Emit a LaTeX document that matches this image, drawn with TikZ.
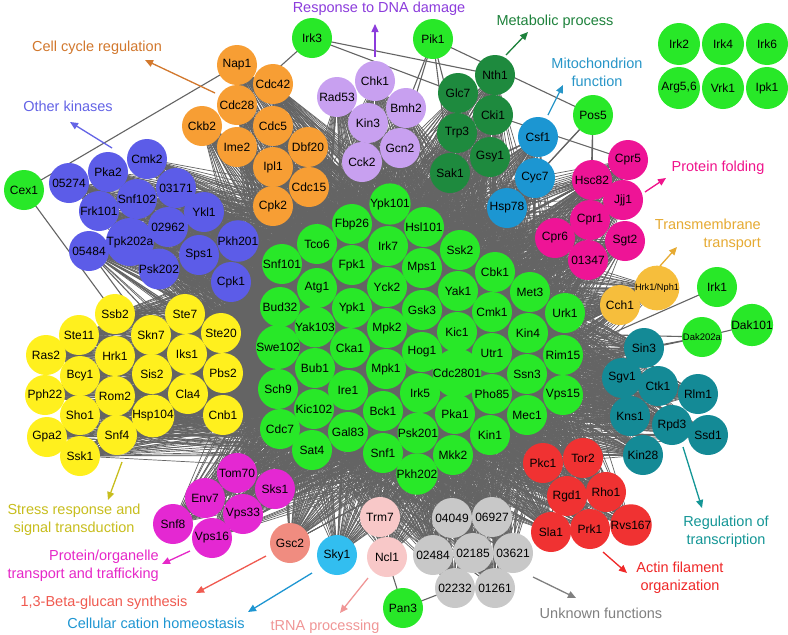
\documentclass[tikz,border=0pt]{standalone}
\usepackage{fontspec}
\setmainfont{Liberation Sans}
\usetikzlibrary{arrows.meta}
\pgfdeclarelayer{back}
\pgfdeclarelayer{bg}
\pgfsetlayers{back,bg,main}
\definecolor{cG}{RGB}{40,232,40}
\definecolor{cDG}{RGB}{30,138,62}
\definecolor{cOr}{RGB}{247,158,52}
\definecolor{cBl}{RGB}{92,92,232}
\definecolor{cPu}{RGB}{200,160,240}
\definecolor{cMi}{RGB}{28,150,210}
\definecolor{cPk}{RGB}{238,20,150}
\definecolor{cYe}{RGB}{255,240,30}
\definecolor{cTm}{RGB}{246,190,60}
\definecolor{cTe}{RGB}{20,138,150}
\definecolor{cRe}{RGB}{240,50,50}
\definecolor{cGy}{RGB}{200,200,200}
\definecolor{cMa}{RGB}{228,40,210}
\definecolor{cLp}{RGB}{248,200,200}
\definecolor{cSk}{RGB}{50,190,240}
\definecolor{cSa}{RGB}{240,140,128}
\definecolor{cEdge}{RGB}{100,100,100}
\definecolor{lOr}{RGB}{210,120,45}
\definecolor{lBl}{RGB}{100,100,230}
\definecolor{lPu}{RGB}{140,60,220}
\definecolor{lDG}{RGB}{30,130,60}
\definecolor{lMi}{RGB}{40,150,200}
\definecolor{lPk}{RGB}{240,20,140}
\definecolor{lTm}{RGB}{230,170,50}
\definecolor{lTe}{RGB}{20,150,150}
\definecolor{lRe}{RGB}{240,40,40}
\definecolor{lGy}{RGB}{128,128,128}
\definecolor{lLp}{RGB}{240,150,150}
\definecolor{lSk}{RGB}{30,150,210}
\definecolor{lSa}{RGB}{240,90,80}
\definecolor{lMa}{RGB}{230,40,200}
\definecolor{lYe}{RGB}{200,190,30}
\tikzset{
  nd/.style={circle, minimum size=40pt, inner sep=0pt, draw=none, text=black, font=\fontsize{12}{12}\selectfont},
  lab/.style={font=\fontsize{14.5}{18}\selectfont, align=center, inner sep=0pt},
  arr/.style={line width=1.3pt, -{Triangle[length=8pt,width=7pt]}},
  edge/.style={draw=cEdge, line width=0.7pt},
  ledge/.style={draw=cEdge, line width=1.1pt}
}
\def\central{Ypk101,Fbp26,Hsl101,Tco6,Irk7,Ssk2,Snf101,Fpk1,Mps1,Cbk1,Atg1,Yck2,Yak1,Met3,Bud32,Ypk1,Gsk3,Cmk1,Urk1,Yak103,Mpk2,Kic1,Kin4,Swe102,Cka1,Hog1,Utr1,Rim15,Bub1,Mpk1,Cdc2801,Ssn3,Sch9,Ire1,Irk5,Pho85,Vps15,Kic102,Bck1,Pka1,Mec1,Cdc7,Gal83,Psk201,Kin1,Sat4,Snf1,Mkk2,Pkh202}
\def\periph{05274,Pka2,Cmk2,Snf102,03171,Frk101,Ykl1,02962,05484,Tpk202a,Pkh201,Sps1,Psk202,Cpk1,Nap1,Cdc42,Cdc28,Ckb2,Cdc5,Ime2,Dbf20,Ipl1,Cdc15,Cpk2,Chk1,Rad53,Bmh2,Kin3,Gcn2,Cck2,Nth1,Glc7,Cki1,Trp3,Gsy1,Sak1,Csf1,Cyc7,Hsp78,Cpr5,Hsc82,Jjj1,Cpr1,Cpr6,Sgt2,01347,HrkNph,Cch1,Sin3,Sgv1,Ctk1,Rlm1,Kns1,Rpd3,Ssd1,Kin28,Pkc1,Tor2,Rgd1,Rho1,Sla1,Prk1,Rvs167,04049,06927,02484,02185,03621,02232,01261,Tom70,Sks1,Env7,Vps33,Snf8,Vps16,Gsc2,Sky1,Trm7,Ncl1,Ssb2,Ste7,Ste11,Skn7,Ste20,Ras2,Hrk1,Iks1,Bcy1,Sis2,Pbs2,Pph22,Rom2,Cla4,Sho1,Hsp104,Cnb1,Gpa2,Snf4,Ssk1}
\begin{document}
\begin{tikzpicture}[x=1pt,y=-1pt]
\begin{pgfonlayer}{back}
\fill[white] (0,0) rectangle (788,635);
\end{pgfonlayer}
\useasboundingbox (0,0) rectangle (788,635);
% central green
\foreach \n/\x/\y in {Ypk101/390/204,Fbp26/352/224,Hsl101/424/227,Tco6/317/244,Irk7/388/246,Ssk2/460/250,Snf101/282/264,Fpk1/352/265,Mps1/422/268,Cbk1/495/272,Atg1/317/288,Yck2/387/287,Yak1/458/291,Met3/530/292,Bud32/280/307,Ypk1/352/308,Gsk3/422/310,Cmk1/492/312,Urk1/565/313,Yak103/315/327,Mpk2/387/328,Kic1/457/332,Kin4/528/333,Swe102/278/347,Cka1/350/348,Hog1/422/352,Utr1/492/353,Rim15/563/355,Bub1/315/368,Mpk1/386/369,Cdc2801/457/373,Ssn3/527/374,Sch9/278/389,Ire1/348/390,Irk5/420/393,Pho85/492/394,Vps15/563/395,Kic102/314/409,Bck1/383/411,Pka1/455/414,Mec1/527/415,Cdc7/280/429,Gal83/348/432,Psk201/418/433,Kin1/490/435,Sat4/312/450,Snf1/383/453,Mkk2/453/455,Pkh202/417/474}
  \node[nd,fill=cG] (\n) at (\x,\y) {\n};
% other green
\foreach \n/\x/\y in {Cex1/24/190,Irk3/312/38,Pik1/433/39,Pos5/593/115,Irk1/717/287,Dak101/752/325,Pan3/403/608}
  \node[nd,fill=cG] (\n) at (\x,\y) {\n};
\node[nd,fill=cG,font=\fontsize{9.5}{10}\selectfont] (Dak202a) at (702,337) {Dak202a};
\foreach \n/\x/\y in {Irk2/679/44,Irk4/723/44,Irk6/767/44,Vrk1/723/88,Ipk1/767/88}
  \node[nd,fill=cG,minimum size=42pt] (\n) at (\x,\y) {\n};
\node[nd,fill=cG,minimum size=42pt] (Arg56) at (679,88) {Arg5,6};
% blue
\foreach \n/\x/\y in {05274/69/183,Pka2/108/172,Cmk2/147/159,Snf102/137/199,03171/176/188,Frk101/99/211,Ykl1/204/212,02962/168/227,05484/89/251,Tpk202a/130/242,Pkh201/238/241,Sps1/199/255,Psk202/159/269,Cpk1/231/282}
  \node[nd,fill=cBl] (\n) at (\x,\y) {\n};
% orange
\foreach \n/\x/\y in {Nap1/237/65,Cdc42/273/84,Cdc28/237/105,Ckb2/202/126,Cdc5/273/126,Ime2/237/147,Dbf20/308/147,Ipl1/273/167,Cdc15/309/187,Cpk2/273/206}
  \node[nd,fill=cOr] (\n) at (\x,\y) {\n};
% purple
\foreach \n/\x/\y in {Chk1/375/81,Rad53/337/97,Bmh2/406/108,Kin3/368/123,Gcn2/400/148,Cck2/362/162}
  \node[nd,fill=cPu] (\n) at (\x,\y) {\n};
% dark green
\foreach \n/\x/\y in {Nth1/495/75,Glc7/458/93,Cki1/493/115,Trp3/457/133,Gsy1/490/157,Sak1/450/173}
  \node[nd,fill=cDG] (\n) at (\x,\y) {\n};
% mito
\foreach \n/\x/\y in {Csf1/538/137,Cyc7/535/178,Hsp78/507/208}
  \node[nd,fill=cMi] (\n) at (\x,\y) {\n};
% pink
\foreach \n/\x/\y in {Cpr5/628/160,Hsc82/592/180,Jjj1/623/200,Cpr1/590/220,Cpr6/555/238,Sgt2/625/241,01347/588/260}
  \node[nd,fill=cPk] (\n) at (\x,\y) {\n};
% transmembrane
\node[nd,fill=cTm,font=\fontsize{9.2}{10}\selectfont] (HrkNph) at (657,288) {Hrk1/Nph1};
\node[nd,fill=cTm] (Cch1) at (620,305) {Cch1};
% teal
\foreach \n/\x/\y in {Sin3/644/348,Sgv1/622/378,Ctk1/658/386,Rlm1/698/394,Kns1/630/416,Rpd3/672/425,Ssd1/708/435,Kin28/643/455}
  \node[nd,fill=cTe] (\n) at (\x,\y) {\n};
% red
\foreach \n/\x/\y in {Pkc1/543/463,Tor2/583/458,Rgd1/567/496,Rho1/606/492,Sla1/551/532,Prk1/590/529,Rvs167/631/525}
  \node[nd,fill=cRe] (\n) at (\x,\y) {\n};
% gray
\foreach \n/\x/\y in {04049/452/518,06927/492/517,02484/433/555,02185/473/553,03621/513/553,02232/455/588,01261/495/588}
  \node[nd,fill=cGy] (\n) at (\x,\y) {\n};
% magenta
\foreach \n/\x/\y in {Tom70/237/473,Sks1/275/489,Env7/205/498,Vps33/243/514,Snf8/173/524,Vps16/212/538}
  \node[nd,fill=cMa] (\n) at (\x,\y) {\n};
\node[nd,fill=cLp] (Trm7) at (380,517) {Trm7};
\node[nd,fill=cLp] (Ncl1) at (387,557) {Ncl1};
\node[nd,fill=cSk] (Sky1) at (337,555) {Sky1};
\node[nd,fill=cSa] (Gsc2) at (290,543) {Gsc2};
% yellow
\foreach \n/\x/\y in {Ssb2/115/314,Ste7/185/314,Ste11/79/335,Skn7/151/335,Ste20/221/333,Ras2/46/355,Hrk1/115/356,Iks1/187/354,Bcy1/80/376,Sis2/152/374,Pbs2/223/373,Pph22/45/395,Rom2/115/396,Cla4/188/394,Sho1/80/415,Hsp104/153/416,Cnb1/223/415,Gpa2/47/437,Snf4/117/435,Ssk1/80/456}
  \node[nd,fill=cYe] (\n) at (\x,\y) {\n};
% edges
\begin{pgfonlayer}{bg}
  \foreach \a [count=\i] in \central {
    \foreach \b [count=\j] in \central {
      \ifnum\j>\i \draw[edge] (\a.center) -- (\b.center); \fi
    }
  }
  \foreach \a in \periph {
    \foreach \b in \central {
      \draw[edge] (\a.center) -- (\b.center);
    }
  }
  \foreach \a/\b in {Cex1/Nap1,Cex1/Ssb2,Irk3/Cdc28,Irk3/Glc7,Irk3/Nth1,Pik1/Pos5,Pik1/Bmh2,Pik1/Gcn2,Pik1/Trp3,Pik1/Sak1,Cki1/Cpr5,Pos5/Hsc82,Pos5/Cpr1,Pos5/Cyc7,Pos5/Hsp78,Irk1/Rim15,Dak202a/Kin4,Dak202a/Ssn3,Dak202a/Sin3,Dak202a/Dak101,Pan3/Ncl1,Pan3/02232,05484/Ste7,05484/Skn7,05484/Iks1,Tpk202a/Ste7,Tpk202a/Ste20,06927/01261}
    \draw[ledge] (\a.center) -- (\b.center);
\end{pgfonlayer}
% labels
\node[lab,text=lOr] (lCC) at (97,48) {Cell cycle regulation};
\node[lab,text=lBl] (lOK) at (68,106) {Other kinases};
\node[lab,text=lPu] (lDNA) at (379,9) {Response to DNA damage};
\node[lab,text=lDG] (lMP) at (555,22) {Metabolic process};
\node[lab,text=lMi] (lMF) at (597,72) {Mitochondrion\\function};
\node[lab,text=lPk] (lPF) at (718,168) {Protein folding};
\node[lab,text=lTm,align=right,anchor=east] (lTT) at (761,235) {Transmembrane\\transport};
\node[lab,text=lTe] (lRT) at (726,532) {Regulation of\\transcription};
\node[lab,text=lRe] (lAF) at (680,578) {Actin filament\\organization};
\node[lab,text=lGy] (lUF) at (601,613) {Unknown functions};
\node[lab,text=lLp] (ltR) at (325,627) {tRNA processing};
\node[lab,text=lSk] (lCCH) at (156,623) {Cellular cation homeostasis};
\node[lab,text=lSa] (lBG) at (104,603) {1,3-Beta-glucan synthesis};
\node[lab,text=lMa,align=right,anchor=east] (lPO) at (159,566) {Protein/organelle\\transport and trafficking};
\node[lab,text=lYe] (lSR) at (74,520) {Stress response and\\signal transduction};
% arrows
\foreach \nm/\xa/\ya/\xb/\yb/\c in {CC/215/93/145/60/lOr,OK/112/148/70/122/lBl,DNA/375/57/375/24/lPu,MP/506/55/528/32/lDG,MF/548/115/563/85/lMi,PF/645/192/666/178/lPk,TT/660/266/677/247/lTm,RT/683/447/702/508/lTe,AF/603/552/627/573/lRe,UF/533/577/576/598/lGy,tR/368/578/340/613/lLp,CCH/312/573/248/612/lSk,BG/266/556/196/593/lSa,PO/190/551/162/564/lMa,SR/122/462/108/500/lYe}{
  \coordinate (s\nm) at (\xa,\ya);
  \coordinate (e\nm) at (\xb,\yb);
  \draw[arr,draw=\c,fill=\c] (s\nm) -- (e\nm);
}
\end{tikzpicture}
\end{document}
